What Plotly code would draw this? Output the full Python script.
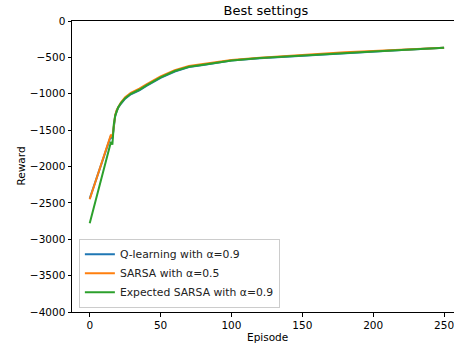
import plotly.graph_objects as go

episodes = [0, 15, 16, 17, 18, 19, 20, 22, 25, 29, 35, 40, 50, 60, 70, 80, 90, 100, 120, 140, 160, 180, 200, 220, 240, 250]

q_learning = [-2440, -1575, -1615, -1410, -1305, -1240, -1196, -1138, -1068, -1008, -953, -893, -783, -695, -634, -604, -571, -544, -511, -487, -463, -439, -418, -398, -378, -367]
sarsa = [-2450, -1560, -1600, -1400, -1290, -1225, -1182, -1120, -1048, -988, -930, -870, -762, -676, -618, -590, -560, -536, -504, -478, -454, -431, -412, -394, -376, -366]
expected_sarsa = [-2780, -1660, -1700, -1420, -1300, -1235, -1190, -1130, -1060, -1000, -945, -885, -775, -688, -628, -600, -568, -542, -509, -484, -462, -438, -418, -398, -378, -367]

names = ["Q-learning with α=0.9", "SARSA with α=0.5", "Expected SARSA with α=0.9"]
colors = ["#1f77b4", "#ff7f0e", "#2ca02c"]
series = [q_learning, sarsa, expected_sarsa]

fig = go.Figure()
for name, color, ys in zip(names, colors, series):
    fig.add_trace(go.Scatter(x=episodes, y=ys, mode="lines", name=name,
                             line=dict(color=color, width=2)))

W, H = 454, 347
font = dict(family="DejaVu Sans", size=10.5, color="black")
fig.update_layout(
    width=W, height=H,
    margin=dict(l=72, r=0, t=21, b=35),
    paper_bgcolor="white", plot_bgcolor="white",
    font=font,
    title=dict(text="Best settings", x=266 / W, xref="container", xanchor="center",
               y=1 - 10.5 / H, yref="container", yanchor="middle",
               font=dict(family="DejaVu Sans", size=13, color="black")),
    legend=dict(x=0.018, y=0.015, xanchor="left", yanchor="bottom",
                bgcolor="rgba(255,255,255,0.8)", bordercolor="#cccccc", borderwidth=1,
                font=dict(family="DejaVu Sans", size=10.8, color="#222"),
                tracegroupgap=0, itemwidth=30),
    showlegend=True,
    annotations=[
        dict(text="Episode", xref="paper", yref="paper", x=(267 - 72) / 382, y=-(337 - 312) / 291,
             xanchor="center", yanchor="middle", showarrow=False,
             font=dict(family="DejaVu Sans", size=10.5, color="black")),
        dict(text="Reward", xref="paper", yref="paper", x=-(72 - 20) / 382, y=0.5,
             xanchor="center", yanchor="middle", showarrow=False, textangle=-90,
             font=dict(family="DejaVu Sans", size=10.5, color="black")),
    ],
)
fig.update_xaxes(range=[-12.5, 257], showgrid=False, zeroline=False,
                 showline=True, linecolor="black", linewidth=1, mirror=True,
                 ticks="outside", ticklen=3.5, tickcolor="black",
                 ticklabeloverflow="allow",
                 tickvals=[0, 50, 100, 150, 200, 250])
fig.update_yaxes(range=[-4000, 0], showgrid=False, zeroline=False,
                 showline=True, linecolor="black", linewidth=1,
                 ticks="outside", ticklen=3.5, tickcolor="black",
                 tickvals=[0, -500, -1000, -1500, -2000, -2500, -3000, -3500, -4000])
fig.write_html("out.html", config={"displayModeBar": False},
               post_script="document.body.style.margin='0';document.body.style.padding='0';")
